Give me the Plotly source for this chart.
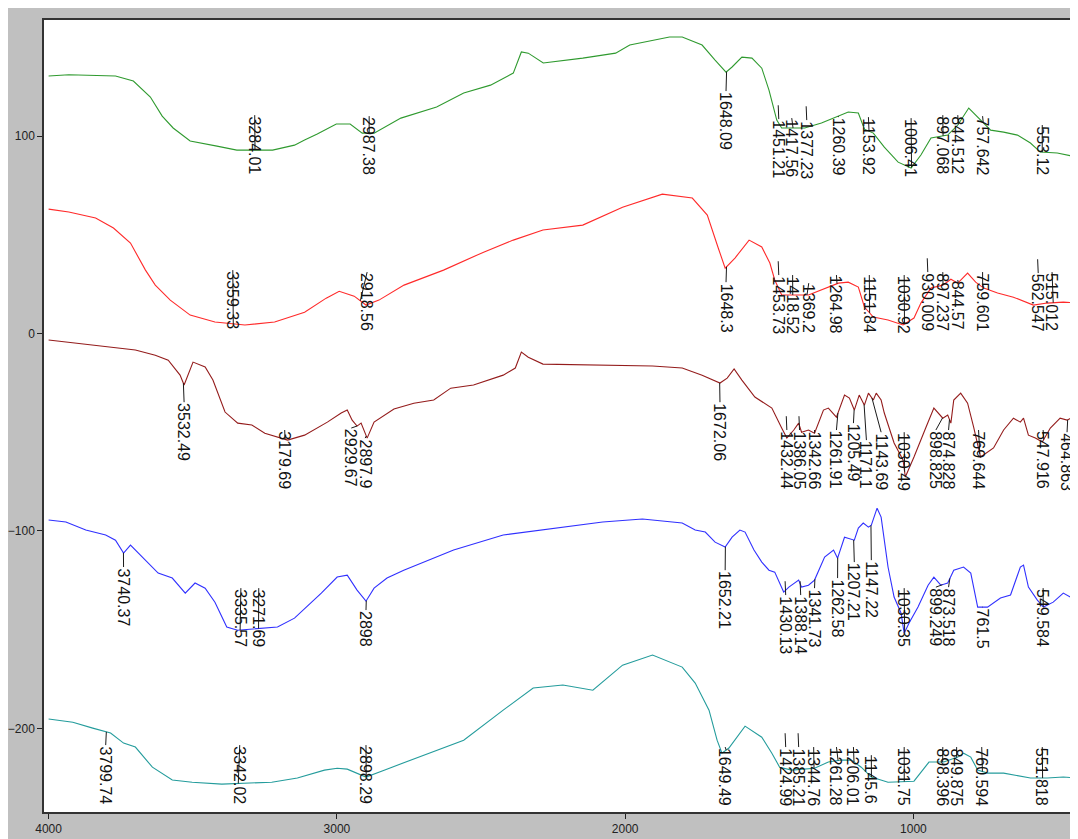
import numpy as np
import plotly.graph_objects as go

# ---------------- axes ----------------
X_RANGE = [4016, 429]
Y_RANGE = [-242.4, 158.8]
X_TICKS = [4000, 3000, 2000, 1000]
Y_TICKS = [-200, -100, 0, 100]

# ---------------- spectra (wavenumber, value) ----------------
green_wn = [4000, 3930, 3768, 3706, 3647, 3606, 3568, 3509, 3416, 3347,
            3223, 3147, 3112, 3068, 3002, 2954, 2912, 2871, 2778, 2654,
            2560, 2467, 2388, 2360, 2336, 2284, 2147, 2033, 1984, 1846,
            1802, 1733, 1688, 1650, 1629, 1595, 1560, 1526, 1501, 1474,
            1457, 1412, 1377, 1319, 1260, 1226, 1191, 1170, 1139, 1101,
            1053, 1008, 974, 939, 881, 846, 808, 777, 732, 687,
            639, 594, 560, 501, 432]
green_val = [130.4, 131.1, 130.4, 127.9, 119.8, 110.1, 104.1, 97.5, 94.9, 92.9,
             92.9, 95.4, 98, 101, 106.1, 106.1, 101.5, 101.5, 109.1, 114.7,
             121.8, 125.8, 131.9, 142.6, 142, 137, 139.5, 142, 146.1, 150.2,
             150.2, 146.1, 138.5, 132.4, 135, 140, 139.5, 134.4, 123.3, 108.1,
             104.1, 104.1, 104.1, 106.6, 110.1, 112.2, 111.7, 103.5, 101.5, 94.4,
             86.8, 83.8, 90.4, 99, 100.5, 105.6, 114.2, 109.6, 103, 102,
             100.5, 96.5, 91.9, 91.4, 89.4]

red_wn = [4000, 3930, 3837, 3775, 3716, 3664, 3630, 3578, 3509, 3423,
          3319, 3216, 3112, 3037, 2992, 2940, 2899, 2854, 2767, 2630,
          2491, 2388, 2285, 2147, 2009, 1871, 1767, 1715, 1677, 1653,
          1619, 1570, 1526, 1498, 1481, 1457, 1364, 1319, 1260, 1226,
          1191, 1170, 1139, 1088, 1036, 998, 974, 939, 898, 870,
          846, 812, 784, 756, 708, 653, 584, 536, 480, 429]
red_val = [63, 61.5, 58.5, 53.4, 45.8, 32.1, 24.5, 16.9, 9.3, 5.8,
           4.3, 5.8, 10.8, 17.9, 21.4, 18.9, 14.4, 16.9, 24.5, 32.1,
           41.2, 47.3, 52.4, 54.9, 64, 70.6, 68.6, 60, 43.3, 33.1,
           38.2, 47.3, 43.8, 35.7, 27.1, 19.5, 19.5, 22, 25.5, 26,
           23.5, 13.4, 8.3, 6.8, 4.3, 7.8, 15.4, 23, 24.5, 27.5,
           25.5, 30.6, 26, 23, 20.5, 18.4, 14.4, 15.4, 15.9, 15.4]

brown_wn = [4000, 3906, 3802, 3699, 3630, 3585, 3544, 3530, 3499, 3457,
            3430, 3388, 3344, 3295, 3250, 3171, 3112, 3033, 2985, 2964,
            2947, 2930, 2916, 2895, 2871, 2802, 2733, 2664, 2605, 2526,
            2423, 2381, 2360, 2336, 2285, 2078, 1905, 1802, 1733, 1671,
            1646, 1622, 1595, 1550, 1491, 1457, 1439, 1415, 1398, 1388,
            1364, 1343, 1312, 1295, 1267, 1239, 1222, 1205, 1188, 1170,
            1156, 1139, 1129, 1112, 1101, 1067, 1036, 1028, 998, 956,
            929, 898, 881, 870, 860, 836, 812, 791, 767, 722,
            687, 653, 629, 618, 601, 577, 553, 525, 491, 467,
            446, 429]
brown_val = [-3.3, -4.9, -6.9, -8.4, -11, -13.5, -21.1, -26.1, -14.5, -17,
             -23.6, -39.8, -45.4, -46.4, -50.5, -54, -51.5, -44.9, -40.3, -38.8,
             -43.9, -46.9, -45.4, -53, -44.9, -38.3, -35.3, -33.7, -27.7, -26.1,
             -21.1, -17.5, -9.4, -12, -15.5, -16, -16.5, -17.5, -21.1, -25.1,
             -22.6, -18, -23.6, -32.2, -37.8, -47.9, -53, -48.9, -45.4, -50,
             -48.9, -50.5, -38.8, -37.8, -42.4, -31.2, -32.7, -38.8, -31.2, -36.3,
             -30.2, -33.7, -30.2, -33.7, -40.3, -55.5, -64.1, -72.7, -62.6, -47.4,
             -37.8, -42.9, -41.3, -45.4, -33.7, -30.2, -35.3, -47.4, -62.6, -58,
             -48.9, -42.9, -44.9, -42.9, -51.5, -53, -55, -47.9, -42.9, -43.9,
             -42.4, -42.4]

blue_wn = [4000, 3940, 3871, 3802, 3768, 3740, 3716, 3682, 3654, 3620,
           3571, 3526, 3492, 3457, 3423, 3382, 3344, 3206, 3147, 3054,
           2999, 2964, 2930, 2899, 2871, 2826, 2768, 2595, 2423, 2250,
           2078, 1940, 1802, 1757, 1722, 1688, 1653, 1629, 1602, 1584,
           1553, 1526, 1501, 1481, 1450, 1432, 1412, 1398, 1388, 1364,
           1343, 1308, 1277, 1263, 1239, 1205, 1191, 1174, 1156, 1146,
           1126, 1112, 1088, 1067, 1043, 1032, 1015, 984, 949, 929,
           905, 881, 860, 826, 801, 777, 743, 698, 663, 629,
           618, 601, 570, 549, 515, 480, 456, 429]
blue_val = [-94.5, -95.5, -99.6, -102.1, -104.7, -111.2, -107.2, -112.3, -116.3, -121.4,
            -123.9, -131.5, -126.4, -129, -136.1, -148.7, -150.3, -148.7, -144.2, -131.5,
            -123.4, -122.4, -130, -135.6, -129, -123.9, -119.9, -109.7, -102.1, -98.6,
            -95.5, -94, -96, -99.6, -100.6, -105.7, -108.2, -103.2, -99.6, -100.6,
            -109.7, -115.8, -119.9, -120.9, -131, -128.5, -126.4, -124.9, -128.5, -127.5,
            -124.9, -113.3, -109.7, -113.8, -103.2, -104.7, -98.6, -96, -98.1, -97.1,
            -88.5, -93, -118.3, -133.5, -141.6, -151.8, -146.7, -138.6, -127.5, -123.4,
            -127.5, -126.4, -119.9, -118.3, -121.4, -138.6, -138.6, -134, -132.5, -118.3,
            -117.3, -128.5, -135.1, -138.6, -136.1, -131.5, -133.5, -130]

teal_wn = [4000, 3916, 3847, 3785, 3740, 3699, 3640, 3571, 3502, 3399,
           3226, 3137, 3043, 2999, 2964, 2916, 2899, 2836, 2698, 2560,
           2423, 2319, 2216, 2112, 2009, 1905, 1802, 1757, 1709, 1681,
           1664, 1640, 1584, 1526, 1491, 1464, 1422, 1343, 1295, 1250,
           1215, 1181, 1146, 1088, 998, 946, 895, 846, 826, 801,
           777, 743, 687, 594, 536, 480, 429]
teal_val = [-195.3, -196.9, -199.9, -202.4, -207.5, -209.5, -219.7, -226.2, -227.3, -228.3,
            -227.3, -225.2, -221.2, -220.2, -220.7, -223.7, -224.7, -221.2, -213.6, -206,
            -190.8, -179.6, -178.1, -180.7, -168, -162.9, -169, -177.1, -190.8, -206,
            -212.6, -210, -198.9, -204.5, -212.6, -219.7, -221.2, -220.2, -217.1, -216.1,
            -216.1, -219.7, -224.7, -227.3, -226.8, -217.1, -217.1, -214.6, -212.6, -214.6,
            -221.2, -222.7, -222.7, -225.2, -225.2, -224.7, -225.2]

# ---------------- peak labels ----------------
green_lbl_text = ["3284.01", "2987.38", "1648.09", "1451.21", "1417.56", "1377.23", "1260.39",
                  "1153.92", "1006.41", "897.068", "844.512", "757.642", "553.12", "427.681"]
green_lbl_x = [3285, 2888, 1650, 1467, 1422, 1370, 1260, 1156, 1008, 898, 846, 760, 553, 433]
green_lbl_top = [110.6, 110.1, 122.8, 108.6, 109.1, 108.1, 109.6, 109.6, 109.1, 110.6, 110.6, 110.1, 105.6, 110.6]
green_lbl_stub = [0, 0, 0, 1, 0, 1, 0, 0, 0, 0, 0, 0, 0, 0]

red_lbl_text = ["3359.33", "2918.56", "1648.3", "1453.73", "1418.52", "1369.2", "1264.98", "1151.84",
                "1030.92", "930.009", "897.237", "844.57", "759.601", "562.547", "515.012", "426.637"]
red_lbl_x = [3361, 2895, 1650, 1467, 1419, 1363, 1267, 1153, 1032, 950, 898, 846, 760, 567, 519, 433]
red_lbl_top = [32.1, 31.1, 26, 29.6, 29.6, 25.5, 29.6, 29.6, 29.6, 31.1, 31.1, 27.1, 31.1, 30.6, 31.1, 31.1]
red_lbl_stub = [0, 0, 0, 1, 0, 0, 0, 0, 0, 1, 0, 0, 0, 1, 0, 0]

brown_lbl_text = ["3532.49", "3179.69", "2929.67", "2897.9", "1672.06", "1432.44", "1386.05", "1342.66",
                  "1261.91", "1205.49", "1171.1", "1143.69", "1030.49", "898.825", "874.828", "769.644",
                  "547.916", "464.863"]
brown_lbl_x = [3530, 3181, 2950, 2902, 1671, 1439, 1395, 1343, 1267, 1208, 1163, 1112, 1032, 922, 878, 774, 550, 467]
brown_lbl_top = [-34.8, -48.9, -47.9, -53, -34.8, -48.9, -48.9, -48.9, -48.9, -45.4, -54, -50, -50, -48.9,
                 -48.9, -48.9, -48.9, -50]
brown_lbl_stub = [0, 0, 0, 0, 0, 1, 1, 0, 0, 0, 0, 0, 0, 0, 0, 0, 0, 0]

blue_lbl_text = ["3740.37", "3335.57", "3271.69", "2898", "1652.21", "1430.13", "1388.14", "1341.73",
                 "1262.58", "1207.21", "1147.22", "1030.35", "899.249", "873.518", "761.5", "549.584"]
blue_lbl_x = [3740, 3333, 3271, 2899, 1653, 1443, 1391, 1343, 1263, 1205, 1146, 1032, 922, 878, 760, 550]
blue_lbl_top = [-118.3, -129, -129, -140.1, -119.9, -132.5, -132.5, -129, -123.9, -115.8, -114.8, -129,
                -128.5, -128.5, -138.6, -129]
blue_lbl_stub = [0, 0, 0, 0, 0, 1, 1, 0, 0, 0, 0, 0, 0, 0, 0, 0]

teal_lbl_text = ["3799.74", "3342.02", "2898.29", "1649.49", "1424.99", "1385.21", "1344.76", "1261.28",
                 "1206.01", "1145.6", "1031.75", "898.396", "849.875", "760.594", "551.818"]
teal_lbl_x = [3802, 3337, 2899, 1653, 1443, 1398, 1346, 1267, 1208, 1146, 1032, 898, 850, 763, 553]
teal_lbl_top = [-208.5, -208.5, -208.5, -209.5, -209.5, -209.5, -209.5, -209.5, -209.5, -213.6, -209.5,
                -209.5, -209.5, -209.5, -209.5]
teal_lbl_stub = [0, 0, 0, 0, 1, 1, 0, 0, 0, 0, 0, 0, 0, 0, 0]

series = [
    dict(wn=green_wn, val=green_val, color="#2f9a2f", txt=green_lbl_text, lx=green_lbl_x, top=green_lbl_top, stub=green_lbl_stub),
    dict(wn=red_wn, val=red_val, color="#ff2a2a", txt=red_lbl_text, lx=red_lbl_x, top=red_lbl_top, stub=red_lbl_stub),
    dict(wn=brown_wn, val=brown_val, color="#941c1c", txt=brown_lbl_text, lx=brown_lbl_x, top=brown_lbl_top, stub=brown_lbl_stub),
    dict(wn=blue_wn, val=blue_val, color="#3030ff", txt=blue_lbl_text, lx=blue_lbl_x, top=blue_lbl_top, stub=blue_lbl_stub),
    dict(wn=teal_wn, val=teal_val, color="#249c9c", txt=teal_lbl_text, lx=teal_lbl_x, top=teal_lbl_top, stub=teal_lbl_stub),
]

FONT = "Liberation Sans, Arial, sans-serif"

fig = go.Figure()
lead_x, lead_y = [], []
annotations = []
for s in series:
    fig.add_trace(go.Scatter(x=s["wn"], y=s["val"], mode="lines",
                             line=dict(color=s["color"], width=1.1), showlegend=False,
                             hoverinfo="skip"))
    xs = np.array(s["wn"][::-1], dtype=float)
    ys = np.array(s["val"][::-1], dtype=float)
    for t, lx, top, st in zip(s["txt"], s["lx"], s["top"], s["stub"]):
        v = float(t)
        px = v if abs(v - lx) < 60 else lx
        if st:
            lead_x += [lx, lx + 2, None]
            lead_y += [top, top + 7, None]
        else:
            cy = float(np.interp(px, xs, ys))
            lead_x += [px, lx, None]
            lead_y += [cy, top, None]
        annotations.append(dict(x=lx, y=top, xref="x", yref="y", text=t, showarrow=False,
                                textangle=90, xanchor="center", yanchor="top",
                                font=dict(family=FONT, size=16, color="#111"),
                                borderpad=0))

fig.add_trace(go.Scatter(x=lead_x, y=lead_y, mode="lines", line=dict(color="#1a1a1a", width=1),
                         showlegend=False, hoverinfo="skip"))

fig.update_layout(
    width=1070, height=831,
    margin=dict(l=30, r=0, t=12, b=27),
    paper_bgcolor="#c0c0c0", plot_bgcolor="#ffffff",
    annotations=annotations, hovermode=False,
    xaxis=dict(range=X_RANGE, tickvals=X_TICKS, ticks="outside", ticklen=5, tickcolor="#222",
               showgrid=False, zeroline=False, showline=True, linecolor="#333", linewidth=1.5,
               mirror=True, tickfont=dict(family=FONT, size=12, color="#222")),
    yaxis=dict(range=Y_RANGE, tickvals=Y_TICKS, ticks="outside", ticklen=5, tickcolor="#222",
               showgrid=False, zeroline=False, showline=True, linecolor="#333", linewidth=1.5,
               tickfont=dict(family=FONT, size=12, color="#222")),
)

fig.write_html("out.html")
